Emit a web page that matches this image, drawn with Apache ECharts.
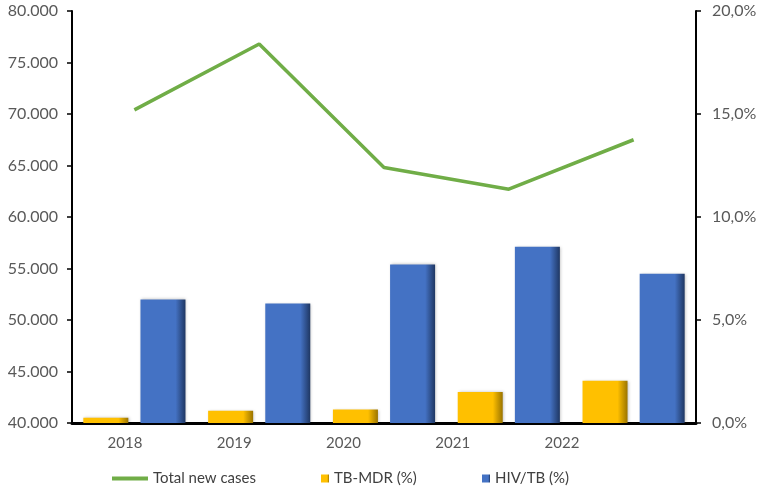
<!DOCTYPE html>
<html>
<head>
<meta charset="utf-8">
<script src="https://cdn.jsdelivr.net/npm/echarts@6/dist/echarts.min.js"></script>
<style>
html,body{margin:0;padding:0;background:#fff;}
#main{width:767px;height:494px;}
</style>
</head>
<body>
<div id="main"></div>
<script>
var years=['2018','2019','2020','2021','2022'];
var totalNewCases=[70400,76800,64800,62700,67500];
var tbMdr=[0.25,0.6,0.65,1.5,2.05];
var hivTb=[6.0,5.8,7.7,8.55,7.25];
var leftTicks={min:40000,max:80000,interval:5000};
var rightTicks={min:0,max:20,interval:5};

var txt='#595959';
var fnt='Lato';

function grad(c1,c2){
	return new echarts.graphic.LinearGradient(0,0,1,0,[
		{offset:0,color:c1},{offset:0.78,color:c1},{offset:1,color:c2}
	]);
}

var myChart=echarts.init(document.getElementById('main'));
var option={
	animation:false,
	textStyle:{fontFamily:fnt},
	grid:[
		{left:72,right:71,top:11,bottom:71},
		{left:125,right:205,top:11,bottom:71}
	],
	legend:[
		{data:['Total new cases'],left:107,top:466,itemWidth:36,itemHeight:4,itemGap:0,icon:'rect',
			textStyle:{color:'#404040',fontSize:15,fontFamily:fnt}},
		{data:['TB-MDR (%)'],left:316,top:466,itemWidth:8,itemHeight:8,icon:'rect',
			textStyle:{color:'#404040',fontSize:15,fontFamily:fnt}},
		{data:['HIV/TB (%)'],left:477,top:466,itemWidth:8,itemHeight:8,icon:'rect',
			textStyle:{color:'#404040',fontSize:15,fontFamily:fnt}}
	],
	xAxis:[
		{
			type:'category',gridIndex:0,data:years,
			axisLine:{show:true,lineStyle:{color:'#000',width:3}},
			axisTick:{show:false},
			axisLabel:{show:false},
			splitLine:{show:false}
		},
		{
			type:'category',gridIndex:1,data:years,boundaryGap:false,
			axisLine:{show:false},axisTick:{show:false},
			axisLabel:{color:txt,fontSize:15,fontFamily:fnt,margin:13},
			splitLine:{show:false}
		}
	],
	yAxis:[
		{
			type:'value',gridIndex:0,position:'left',
			min:leftTicks.min,max:leftTicks.max,interval:leftTicks.interval,
			axisLine:{show:true,lineStyle:{color:'#000',width:2}},
			axisTick:{show:true,length:5,lineStyle:{color:'#000',width:1.5}},
			axisLabel:{color:txt,fontSize:16,fontFamily:fnt,margin:14,
				formatter:function(v){return (v/1000).toFixed(0)+'.000';}},
			splitLine:{show:false}
		},
		{
			type:'value',gridIndex:0,position:'right',
			min:rightTicks.min,max:rightTicks.max,interval:rightTicks.interval,
			axisLine:{show:true,lineStyle:{color:'#000',width:2}},
			axisTick:{show:true,length:5,lineStyle:{color:'#000',width:1.5}},
			axisLabel:{color:txt,fontSize:16,fontFamily:fnt,margin:16,
				formatter:function(v){return v.toFixed(1).replace('.',',')+'%';}},
			splitLine:{show:false}
		},
		{type:'value',gridIndex:1,show:false}
	],
	series:[
		{
			name:'TB-MDR (%)',type:'bar',xAxisIndex:0,yAxisIndex:1,
			data:tbMdr,barWidth:45,barGap:'27%',
			itemStyle:{color:grad('#FFC000','#9a7400'),shadowColor:'rgba(0,0,0,0.25)',shadowBlur:3,shadowOffsetX:1}
		},
		{
			name:'HIV/TB (%)',type:'bar',xAxisIndex:0,yAxisIndex:1,
			data:hivTb,barWidth:45,barGap:'27%',
			itemStyle:{color:grad('#4472C4','#1f3763'),
				shadowColor:'rgba(0,0,0,0.25)',shadowBlur:3,shadowOffsetX:1}
		},
		{
			name:'Total new cases',type:'line',xAxisIndex:0,yAxisIndex:0,
			data:totalNewCases,symbol:'none',z:5,
			lineStyle:{color:'#70AD47',width:3.5},
			itemStyle:{color:'#70AD47'}
		}
	]
};
myChart.setOption(option);
</script>
</body>
</html>
